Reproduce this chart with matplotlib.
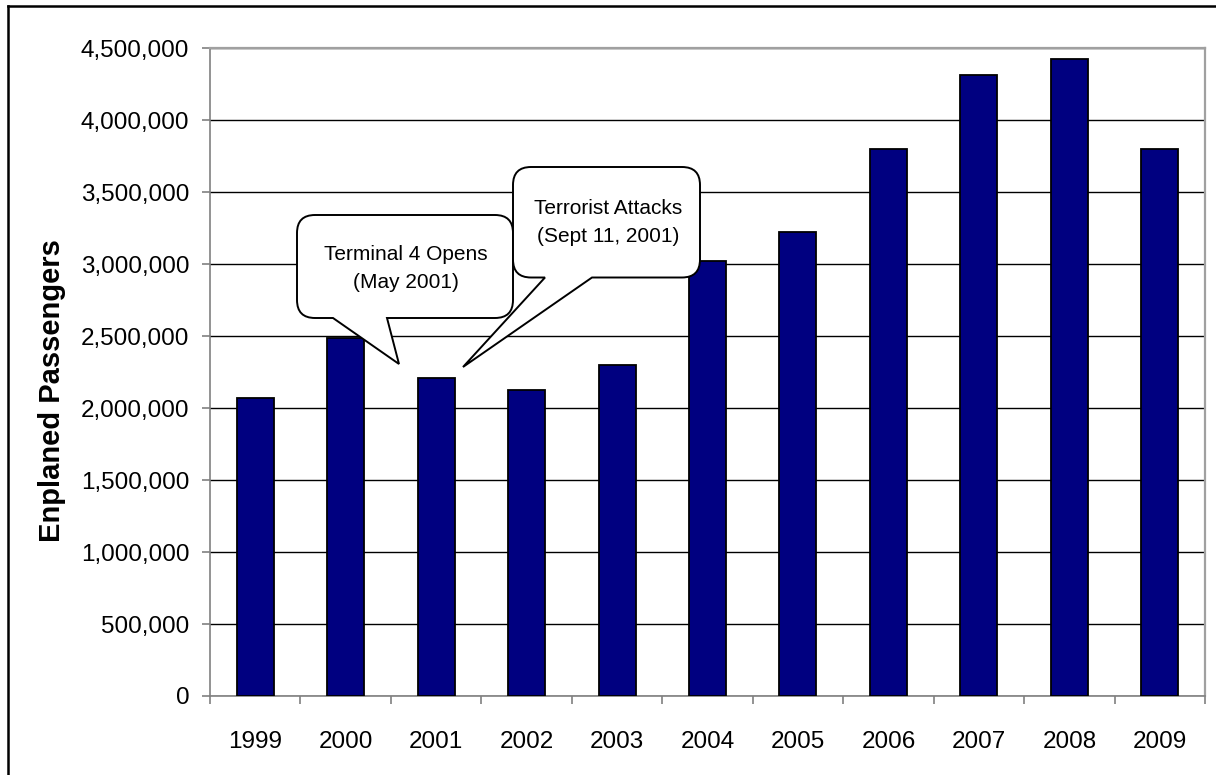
import numpy as np
import matplotlib
matplotlib.use("Agg")
import matplotlib.pyplot as plt
from matplotlib.path import Path
from matplotlib.patches import PathPatch
from matplotlib.lines import Line2D
from matplotlib.ticker import FuncFormatter, MultipleLocator

plt.rcParams['font.family'] = ['Liberation Sans', 'DejaVu Sans']

years = ['1999', '2000', '2001', '2002', '2003', '2004', '2005', '2006', '2007', '2008', '2009']
passengers = [2072000, 2487000, 2209000, 2128000, 2297000, 3025000, 3227000,
              3797000, 4314000, 4423000, 3797000]

W, H = 1216, 775
fig = plt.figure(figsize=(W / 100, H / 100), dpi=100)
ax = fig.add_axes([210 / W, 1 - 696 / H, 995 / W, 647.7 / H])

x = np.arange(len(years))
ax.bar(x, passengers, width=0.41, color='#000080', edgecolor='black', linewidth=1.3, zorder=3)

ax.set_xlim(-0.5, len(years) - 0.5)
ax.set_ylim(0, 4500000)
ax.yaxis.set_major_locator(MultipleLocator(500000))
ax.yaxis.set_major_formatter(FuncFormatter(lambda v, p: '{:,.0f}'.format(v)))
ax.grid(axis='y', color='black', linewidth=1.0, zorder=0)
ax.set_axisbelow(True)

ax.set_xticks(x)
ax.set_xticklabels(years)
ax.set_xticks(np.arange(-0.5, len(years)), minor=True)
ax.tick_params(axis='x', which='major', length=0, pad=25, labelsize=17.5)
ax.tick_params(axis='x', which='minor', length=6, width=1.2, color='#808080')
ax.tick_params(axis='y', length=6, width=1.2, color='#808080', pad=9, labelsize=17.5)

for s in ['left', 'bottom']:
    ax.spines[s].set_color('#808080')
    ax.spines[s].set_linewidth(1.2)
for s in ['top', 'right']:
    ax.spines[s].set_color('#a0a0a0')
    ax.spines[s].set_linewidth(1.6)

ax.set_ylabel('Enplaned Passengers', fontsize=21, fontweight='bold', va='center')
ax.yaxis.set_label_coords((52 - 210) / 995, (696 - 391) / 647.7)

# outer frame (left and top edges only)
fig.add_artist(Line2D([7.5 / W, 7.5 / W], [0, 1 - 6 / H], color='black', lw=1.8))
fig.add_artist(Line2D([7.5 / W, 1], [1 - 6 / H, 1 - 6 / H], color='black', lw=1.8))


def bubble(x0, y0, x1, y1, r, ta, tip, tb):
    # speech bubble in pixel coords (y down), tail on the bottom edge
    M, L, C, Z = Path.MOVETO, Path.LINETO, Path.CURVE3, Path.CLOSEPOLY
    pts = [(x0 + r, y0), (x1 - r, y0), (x1, y0), (x1, y0 + r), (x1, y1 - r),
           (x1, y1), (x1 - r, y1), (tb, y1), tip, (ta, y1), (x0 + r, y1),
           (x0, y1), (x0, y1 - r), (x0, y0 + r), (x0, y0), (x0 + r, y0), (x0 + r, y0)]
    codes = [M, L, C, C, L, C, C, L, L, L, L, C, C, L, C, C, Z]
    pts = [(px / W, 1 - py / H) for px, py in pts]
    return PathPatch(Path(pts, codes), facecolor='white', edgecolor='black',
                     lw=1.4, transform=fig.transFigure)


b1 = bubble(297, 215, 513, 318, 18, 333, (399, 364), 387)
b1.set_zorder(5)
fig.add_artist(b1)
fig.text(406 / W, 1 - 268 / H, 'Terminal 4 Opens\n(May 2001)', ha='center', va='center',
         fontsize=15, linespacing=1.6, zorder=6)

b2 = bubble(513, 167, 700, 277.5, 18, 545, (463, 367), 592)
b2.set_zorder(7)
fig.add_artist(b2)
fig.text(608 / W, 1 - 222 / H, 'Terrorist Attacks\n(Sept 11, 2001)', ha='center', va='center',
         fontsize=15, linespacing=1.6, zorder=8)

fig.savefig('out.png', dpi=100)
